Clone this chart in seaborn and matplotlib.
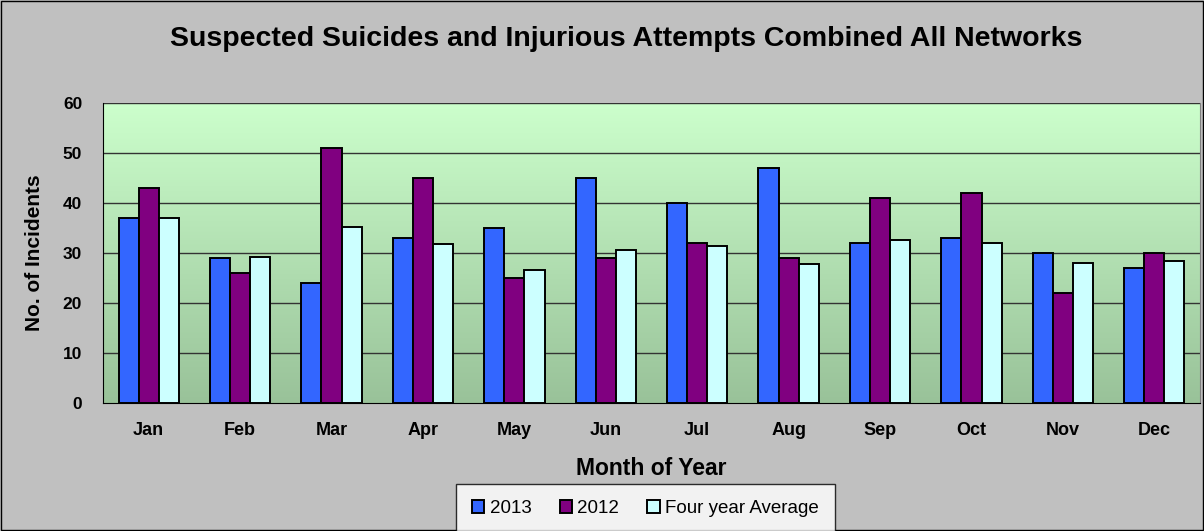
import numpy as np
import pandas as pd
import matplotlib.pyplot as plt
import seaborn as sns
from matplotlib.patches import Rectangle

months = ["Jan", "Feb", "Mar", "Apr", "May", "Jun", "Jul", "Aug", "Sep", "Oct", "Nov", "Dec"]
series_names = ["2013", "2012", "Four year Average"]
vals_2013 = [37, 29, 24, 33, 35, 45, 40, 47, 32, 33, 30, 27]
vals_2012 = [43, 26, 51, 45, 25, 29, 32, 29, 41, 42, 22, 30]
vals_avg = [37, 29.2, 35.2, 31.8, 26.7, 30.6, 31.5, 27.8, 32.6, 32.1, 28.1, 28.4]
colors = ["#3366ff", "#800080", "#ccffff"]

df = pd.DataFrame({
    "month": months * 3,
    "series": [s for s in series_names for _ in months],
    "value": vals_2013 + vals_2012 + vals_avg,
})

sns.set_style("white")
plt.rcParams["font.family"] = ["Liberation Sans", "DejaVu Sans"]
plt.rcParams["text.color"] = "black"
plt.rcParams["axes.labelcolor"] = "black"
plt.rcParams["xtick.labelcolor"] = "black"
plt.rcParams["ytick.labelcolor"] = "black"

fig = plt.figure(figsize=(12.04, 5.31), dpi=100, facecolor="#c0c0c0")
fig.patches.append(Rectangle((0.001, 0.001), 0.998, 0.997, transform=fig.transFigure,
                             fill=False, edgecolor="black", linewidth=1))
ax = fig.add_axes([103 / 1204, 1 - 403 / 531, (1200 - 103) / 1204, 300 / 531])

# gradient background of the plot area
grad = np.linspace(0, 1, 256).reshape(-1, 1)
top = np.array([0.80, 1.0, 0.80])
bot = np.array([0.60, 0.76, 0.60])
img = top * (1 - grad[..., None]) + bot * grad[..., None]
ax.imshow(img, extent=[0, 1, 0, 1], transform=ax.transAxes, aspect="auto", zorder=0)

sns.barplot(data=df, x="month", y="value", hue="series", palette=colors,
            width=0.66, edgecolor="black", linewidth=1.4, saturation=1,
            ax=ax, zorder=3, legend=True)

ax.set_ylim(0, 60)
ax.set_xlim(-0.5, 11.5)
ax.set_yticks(range(0, 61, 10))
for y in range(10, 61, 10):
    ax.axhline(y, color="#333333", linewidth=1, zorder=1)

ax.set_xticks(np.arange(-0.5, 12, 1), minor=True)
ax.set_xticks(range(12))
ax.tick_params(axis="x", which="major", length=0, pad=14, labelcolor="black")
ax.tick_params(axis="x", which="minor", length=5, color="#555555", direction="out")
ax.tick_params(axis="y", length=5, direction="out", color="#555555", pad=10, labelcolor="black")
ax.set_xticklabels(months, fontsize=13, fontweight="bold")
ax.set_yticklabels([str(v) for v in range(0, 61, 10)], fontsize=12.5, fontweight="bold")

ax.spines["top"].set_visible(False)
ax.spines["right"].set_color("#808080")
ax.spines["left"].set_color("black")
ax.spines["bottom"].set_color("black")

ax.set_xlabel("Month of Year", fontsize=16.5, fontweight="bold", color="black")
ax.set_ylabel("No. of Incidents", fontsize=15, fontweight="bold", color="black")
ax.xaxis.set_label_coords(0.5, -0.18)
ax.yaxis.set_label_coords(-0.054, 0.5)
fig.text(0.52, 1 - 39 / 531, "Suspected Suicides and Injurious Attempts Combined All Networks",
         ha="center", va="center", fontsize=20.5, fontweight="bold", color="black")

handles, labels = ax.get_legend_handles_labels()
ax.legend_.remove()
leg = fig.legend(handles, labels, loc="upper left", bbox_to_anchor=(456 / 1204, 1 - 484 / 531),
                 borderaxespad=0, ncol=3, frameon=True, fancybox=False, edgecolor="black",
                 facecolor="white", fontsize=13.5, handlelength=0.65, handleheight=0.65,
                 handletextpad=0.3, columnspacing=1.5, borderpad=0.85, labelcolor="black")
leg.get_frame().set_linewidth(1)

plt.savefig("out.png", dpi=100, facecolor=fig.get_facecolor())
